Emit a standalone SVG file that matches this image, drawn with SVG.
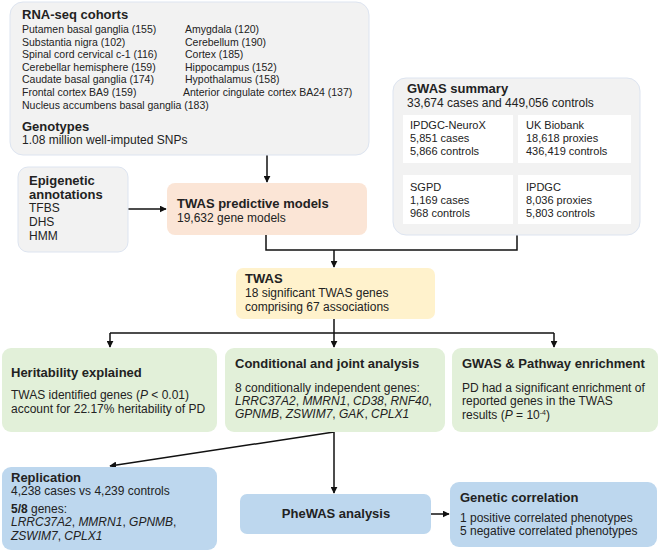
<svg xmlns="http://www.w3.org/2000/svg" width="659" height="552" viewBox="0 0 659 552">
<defs>
<marker id="arr" viewBox="0 0 10 10" refX="9" refY="5" markerWidth="7" markerHeight="7" markerUnits="userSpaceOnUse" orient="auto">
<path d="M0,0 L10,5 L0,10 z" fill="#111"/>
</marker>
</defs>
<style>
text{font-family:"Liberation Sans",Arial,sans-serif;fill:#222;}
.h{font-weight:bold;font-size:13px;}
.s{font-size:10.5px;}
.m{font-size:11px;}
.b{font-size:12px;}
.i{font-style:italic;}
.gray{fill:#f2f2f2;stroke:#dde4f0;stroke-width:1;}
.white{fill:#ffffff;}
.peach{fill:#fbe5d6;}
.yellow{fill:#fff2cc;}
.green{fill:#e2f0d9;}
.blue{fill:#bdd7ee;}
.c{fill:none;stroke:#111;stroke-width:1.5;}
</style>
<rect width="659" height="552" fill="#ffffff"/>

<g id="connectors">
<path class="c" d="M267,155 V182" marker-end="url(#arr)"/>
<path class="c" d="M128,209 H166" marker-end="url(#arr)"/>
<path class="c" d="M266,235 V250 H517 V235"/>
<path class="c" d="M334,250 V267" marker-end="url(#arr)"/>
<path class="c" d="M334,319 V333"/>
<path class="c" d="M110,333 H554"/>
<path class="c" d="M110,333 V347" marker-end="url(#arr)"/>
<path class="c" d="M334,333 V347" marker-end="url(#arr)"/>
<path class="c" d="M554,333 V347" marker-end="url(#arr)"/>
<path class="c" d="M334,432 L110,466" marker-end="url(#arr)"/>
<path class="c" d="M334,432 V493" marker-end="url(#arr)"/>
<path class="c" d="M431,514 H449" marker-end="url(#arr)"/>
</g>

<g id="node-inputs">
<rect class="gray" x="10" y="2" width="359" height="153" rx="13"/>
<text class="h" x="22" y="19">RNA-seq cohorts</text>
<text class="s" x="22" y="33">Putamen basal ganglia (155)</text>
<text class="s" x="22" y="45.5">Substantia nigra (102)</text>
<text class="s" x="22" y="58">Spinal cord cervical c-1 (116)</text>
<text class="s" x="22" y="70.5">Cerebellar hemisphere (159)</text>
<text class="s" x="22" y="83">Caudate basal ganglia (174)</text>
<text class="s" x="22" y="95.5">Frontal cortex BA9 (159)</text>
<text class="s" x="22" y="109">Nucleus accumbens basal ganglia (183)</text>
<text class="s" x="185" y="33">Amygdala (120)</text>
<text class="s" x="185" y="45.5">Cerebellum (190)</text>
<text class="s" x="185" y="58">Cortex (185)</text>
<text class="s" x="185" y="70.5">Hippocampus (152)</text>
<text class="s" x="185" y="83">Hypothalamus (158)</text>
<text class="s" x="183" y="95.5">Anterior cingulate cortex BA24 (137)</text>
<text class="h" x="22" y="131">Genotypes</text>
<text class="b" x="22" y="144">1.08 million well-imputed SNPs</text>
</g>

<g id="node-epigenetic">
<rect class="gray" x="18" y="167" width="110" height="85" rx="10"/>
<text class="h" x="29" y="185">Epigenetic</text>
<text class="h" x="29" y="198.5">annotations</text>
<text class="b" x="29" y="212">TFBS</text>
<text class="b" x="29" y="226">DHS</text>
<text class="b" x="29" y="240">HMM</text>
</g>

<g id="node-models">
<rect class="peach" x="167" y="183" width="200" height="52" rx="8"/>
<text class="h" x="177" y="208">TWAS predictive models</text>
<text class="b" x="177" y="222">19,632 gene models</text>
</g>

<g id="node-gwas">
<rect class="gray" x="393" y="78" width="247" height="157" rx="13"/>
<text class="h" x="407" y="93">GWAS summary</text>
<text class="b" x="407" y="107">33,674 cases and 449,056 controls</text>
<rect class="white" x="403" y="115" width="110" height="48"/>
<rect class="white" x="518" y="115" width="113" height="48"/>
<rect class="white" x="403" y="175" width="110" height="49"/>
<rect class="white" x="518" y="175" width="113" height="49"/>
<text class="m" x="410" y="129">IPDGC-NeuroX</text>
<text class="m" x="410" y="142">5,851 cases</text>
<text class="m" x="410" y="155">5,866 controls</text>
<text class="m" x="526" y="129">UK Biobank</text>
<text class="m" x="526" y="142">18,618 proxies</text>
<text class="m" x="526" y="155">436,419 controls</text>
<text class="m" x="410" y="191">SGPD</text>
<text class="m" x="410" y="204">1,169 cases</text>
<text class="m" x="410" y="217">968 controls</text>
<text class="m" x="526" y="191">IPDGC</text>
<text class="m" x="526" y="204">8,036 proxies</text>
<text class="m" x="526" y="217">5,803 controls</text>
</g>

<g id="node-twas">
<rect class="yellow" x="236" y="268" width="199" height="51" rx="7"/>
<text class="h" x="245" y="283">TWAS</text>
<text class="b" x="245" y="297">18 significant TWAS genes</text>
<text class="b" x="245" y="311">comprising 67 associations</text>
</g>

<g id="node-heritability">
<rect class="green" x="2" y="348" width="215" height="84" rx="9"/>
<text class="h" x="11" y="377">Heritability explained</text>
<text class="b" x="11" y="399">TWAS identified genes (<tspan class="i">P</tspan> &lt; 0.01)</text>
<text class="b" x="11" y="413">account for 22.17% heritability of PD</text>
</g>

<g id="node-conditional">
<rect class="green" x="225" y="348" width="220" height="84" rx="9"/>
<text class="h" x="235" y="368">Conditional and joint analysis</text>
<text class="b" x="235" y="392">8 conditionally independent genes:</text>
<text class="b i" x="235" y="405">LRRC37A2<tspan font-style="normal">, </tspan>MMRN1<tspan font-style="normal">, </tspan>CD38<tspan font-style="normal">, </tspan>RNF40<tspan font-style="normal">,</tspan></text>
<text class="b i" x="235" y="418">GPNMB<tspan font-style="normal">, </tspan>ZSWIM7<tspan font-style="normal">, </tspan>GAK<tspan font-style="normal">, </tspan>CPLX1</text>
</g>

<g id="node-enrichment">
<rect class="green" x="452" y="348" width="206" height="84" rx="9"/>
<text class="h" x="462" y="368">GWAS &amp; Pathway enrichment</text>
<text class="b" x="462" y="392">PD had a significant enrichment of</text>
<text class="b" x="462" y="405">reported genes in the TWAS</text>
<text class="b" x="462" y="419">results (<tspan class="i">P</tspan> = 10<tspan font-size="7" dy="-4">-4</tspan><tspan dy="4">)</tspan></text>
</g>

<g id="node-replication">
<rect class="blue" x="2" y="467" width="215" height="83" rx="9"/>
<text class="h" x="11" y="482">Replication</text>
<text class="b" x="11" y="495">4,238 cases vs 4,239 controls</text>
<text class="b" x="11" y="513"><tspan font-weight="bold">5/8</tspan> genes:</text>
<text class="b i" x="11" y="526">LRRC37A2<tspan font-style="normal">, </tspan>MMRN1<tspan font-style="normal">, </tspan>GPNMB<tspan font-style="normal">,</tspan></text>
<text class="b i" x="11" y="540">ZSWIM7<tspan font-style="normal">, </tspan>CPLX1</text>
</g>

<g id="node-phewas">
<rect class="blue" x="240" y="494" width="191" height="40" rx="7"/>
<text class="h" x="336" y="518" text-anchor="middle">PheWAS analysis</text>
</g>

<g id="node-genetic">
<rect class="blue" x="450" y="482" width="207" height="65" rx="9"/>
<text class="h" x="460" y="502">Genetic correlation</text>
<text class="b" x="460" y="522">1 positive correlated phenotypes</text>
<text class="b" x="460" y="535">5 negative correlated phenotypes</text>
</g>
</svg>
